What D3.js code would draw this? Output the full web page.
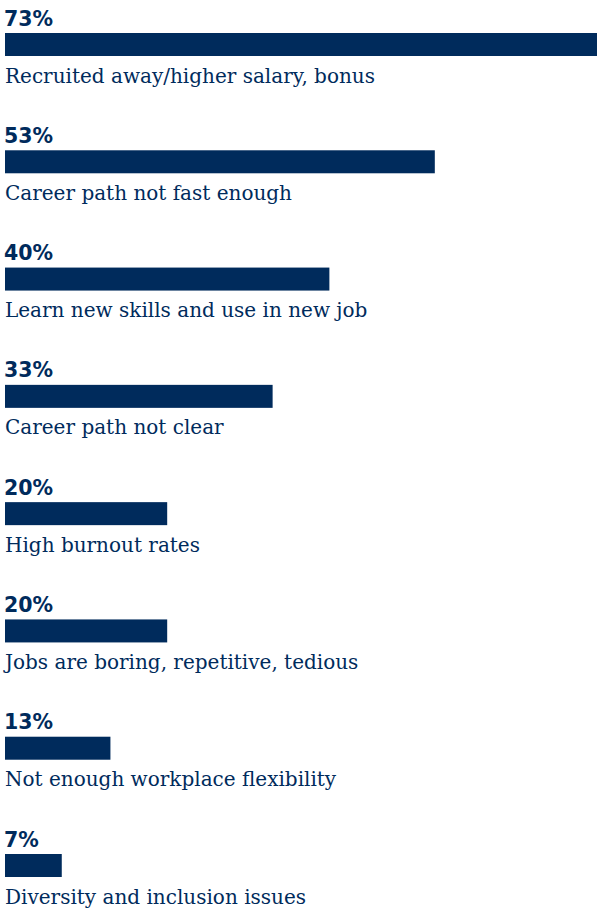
<!DOCTYPE html>
<html>
<head>
<meta charset="utf-8">
<script src="https://cdn.jsdelivr.net/npm/d3@7"></script>
<style>
  html, body { margin: 0; padding: 0; background: #ffffff; }
  svg { display: block; }
</style>
</head>
<body>
<svg id="chart" width="597" height="909"></svg>
<script>
const categories = [
  "Recruited away/higher salary, bonus",
  "Career path not fast enough",
  "Learn new skills and use in new job",
  "Career path not clear",
  "High burnout rates",
  "Jobs are boring, repetitive, tedious",
  "Not enough workplace flexibility",
  "Diversity and inclusion issues"
];
const values = [73, 53, 40, 33, 20, 20, 13, 7];
const valueLabels = ["73%", "53%", "40%", "33%", "20%", "20%", "13%", "7%"];

const W = 597, H = 909;
const color = "#002b5c";
const barH = 23;
const svg = d3.select("#chart");

const x = d3.scaleLinear().domain([0, 73]).range([5, 597]);
const y = d3.scaleLinear().domain([0, categories.length - 1]).range([33, 854]);

const rows = svg.selectAll("g.row")
  .data(categories.map((c, i) => ({ c, v: values[i], l: valueLabels[i], i })))
  .join("g").attr("class", "row");

rows.append("rect")
  .attr("x", x(0))
  .attr("y", d => y(d.i))
  .attr("width", d => x(d.v) - x(0))
  .attr("height", barH)
  .attr("fill", color);

rows.append("text")
  .attr("x", 4)
  .attr("y", d => y(d.i) - 7.5)
  .attr("fill", color)
  .attr("font-family", "'DejaVu Sans', sans-serif")
  .attr("font-weight", "bold")
  .attr("font-size", 20.5)
  .text(d => d.l);

rows.append("text")
  .attr("x", 5)
  .attr("y", d => y(d.i) + barH + 26.5)
  .attr("fill", color)
  .attr("font-family", "'DejaVu Serif', serif")
  .attr("font-size", 20)
  .text(d => d.c);
</script>
</body>
</html>
